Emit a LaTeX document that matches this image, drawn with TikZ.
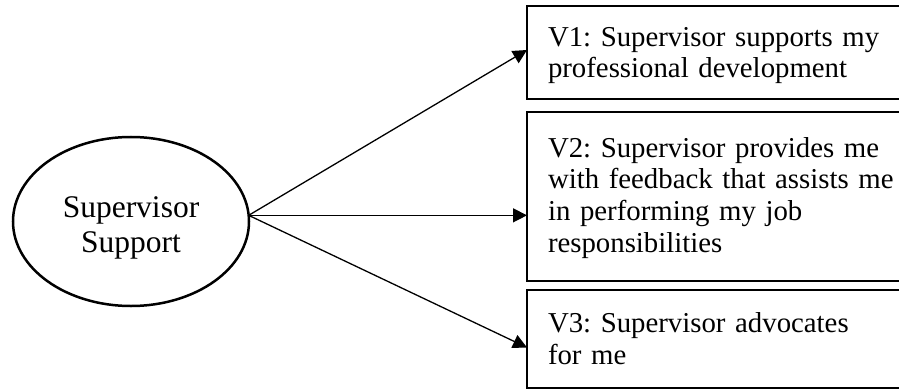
\documentclass[tikz,border=0pt]{standalone}
\usepackage{fontspec}
\setmainfont{Liberation Serif}
\usetikzlibrary{arrows.meta,shapes.geometric}
\frenchspacing
\begin{document}
\begin{tikzpicture}[x=0.5pt,y=-0.5pt,
  construct/.style={draw, ellipse, line width=1.25pt, inner sep=0pt, outer sep=0pt,
    minimum width=118pt, minimum height=84.5pt, text width=70pt, align=center,
    font=\fontsize{15.75}{17.5}\selectfont},
  itembox/.style={draw, rectangle, line width=1pt, anchor=north west,
    inner xsep=10.5pt, inner ysep=0pt, outer sep=0pt,
    minimum width=195pt, text width=174pt, align=left,
    font=\fontsize{14.4}{15.9}\selectfont},
  link/.style={-{Triangle[length=7pt,width=7pt]}, line width=0.65pt}
]
  % page frame
  \useasboundingbox (0,0) rectangle (899,390);

  % latent construct
  \node[construct, text height=16.4pt] (sup) at (131,221.5) {Supervisor\\Support};
  \coordinate (src) at (sup.3);

  % observed indicators
  \node[itembox, minimum height=46.5pt, text height=12.6pt] (v1) at (527,6)
    {V1: Supervisor supports my\\professional development};
  \node[itembox, minimum height=84.5pt, text height=11.3pt] (v2) at (527,112)
    {V2: Supervisor provides me\\with feedback that assists me\\in performing my job\\responsibilities};
  \node[itembox, minimum height=49pt] (v3) at (527,290)
    {V3: Supervisor advocates\\for me};

  % loadings
  \draw[link] (src) -- ([yshift=1.25pt]v1.west);
  \draw[link] (src) -- (v2.west |- src);
  \draw[link] (src) -- ([yshift=-4.25pt]v3.west);
\end{tikzpicture}
\end{document}
